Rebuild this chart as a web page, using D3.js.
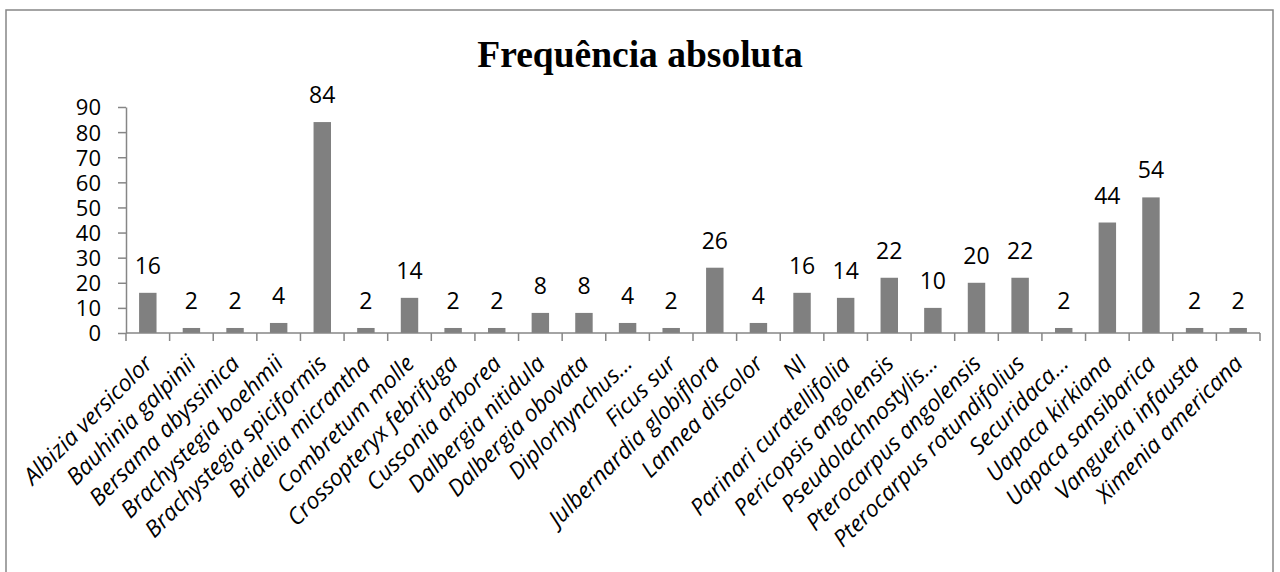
<!DOCTYPE html>
<html>
<head>
<meta charset="utf-8">
<script src="https://cdn.jsdelivr.net/npm/d3@7"></script>
<style>
html,body{margin:0;padding:0;background:#fff;}
svg{display:block;}
</style>
</head>
<body>
<svg id="chart" width="1280" height="572"></svg>
<script>
const categories = ["Albizia versicolor","Bauhinia galpinii","Bersama abyssinica","Brachystegia boehmii","Brachystegia spiciformis","Bridelia micrantha","Combretum molle","Crossopteryx febrifuga","Cussonia arborea","Dalbergia nitidula","Dalbergia obovata","Diplorhynchus…","Ficus sur","Julbernardia globiflora","Lannea discolor","NI","Parinari curatellifolia","Pericopsis angolensis","Pseudolachnostylis…","Pterocarpus angolensis","Pterocarpus rotundifolius","Securidaca…","Uapaca kirkiana","Uapaca sansibarica","Vangueria infausta","Ximenia americana"];
const values = [16,2,2,4,84,2,14,2,2,8,8,4,2,26,4,16,14,22,10,20,22,2,44,54,2,2];
const yTicks = [0,10,20,30,40,50,60,70,80,90];
const title = "Frequência absoluta";

const svg = d3.select("#chart");
const axisColor = "#868686";
const font = "'Open Sans', sans-serif";

// outer border
svg.append("rect").attr("x",6).attr("y",10).attr("width",1267).attr("height",600)
  .attr("fill","none").attr("stroke",axisColor).attr("stroke-width",1.5);

svg.append("text").attr("x",640).attr("y",67).attr("text-anchor","middle")
  .attr("font-family","'Liberation Serif', serif").attr("font-weight","bold")
  .attr("font-size",37.5).attr("fill","#000").text(title);

const xb = d3.scaleBand().domain(categories).range([126,1260]);
const y = d3.scaleLinear().domain([0,90]).range([333,107]);

// bars
svg.append("g").selectAll("rect").data(values).join("rect")
  .attr("x",(d,i)=>xb(categories[i]) + (xb.bandwidth()-xb.bandwidth()*0.4)/2)
  .attr("width",xb.bandwidth()*0.4)
  .attr("y",d=>y(d)).attr("height",d=>y(0)-y(d)).attr("fill","#808080");

// y axis
const ya = svg.append("g").attr("transform","translate(126,0)")
  .call(d3.axisLeft(y).tickValues(yTicks).tickSize(8).tickSizeOuter(0).tickPadding(17));
ya.select(".domain").attr("stroke",axisColor).attr("stroke-width",1.5);
ya.selectAll(".tick line").attr("stroke",axisColor).attr("stroke-width",1.5);
ya.selectAll(".tick text").attr("font-family",font).attr("font-size",22).attr("fill","#000").attr("dy","0.36em");

// x axis
const xa = svg.append("g").attr("transform","translate(0,333)");
xa.append("line").attr("x1",126).attr("x2",1260).attr("y1",0).attr("y2",0)
  .attr("stroke",axisColor).attr("stroke-width",1.5);
const bounds = categories.map(c=>xb(c)).concat([xb(categories[categories.length-1])+xb.bandwidth()]);
xa.selectAll("line.tk").data(bounds).join("line").attr("class","tk")
  .attr("x1",d=>d).attr("x2",d=>d).attr("y1",0).attr("y2",8)
  .attr("stroke",axisColor).attr("stroke-width",1.5);
xa.selectAll("text.lbl").data(categories).join("text").attr("class","lbl")
  .attr("transform",d=>`translate(${xb(d)+xb.bandwidth()/2+6},${32}) rotate(-45)`)
  .attr("text-anchor","end")
  .attr("font-family",font).attr("font-style","italic").attr("font-size",23)
  .attr("fill","#000").text(d=>d);

// data labels
svg.append("g").selectAll("text").data(values).join("text")
  .attr("x",(d,i)=>xb(categories[i])+xb.bandwidth()/2)
  .attr("y",d=>y(d)-19)
  .attr("text-anchor","middle")
  .attr("font-family",font).attr("font-size",23).attr("fill","#000")
  .text(d=>d);
</script>
</body>
</html>
